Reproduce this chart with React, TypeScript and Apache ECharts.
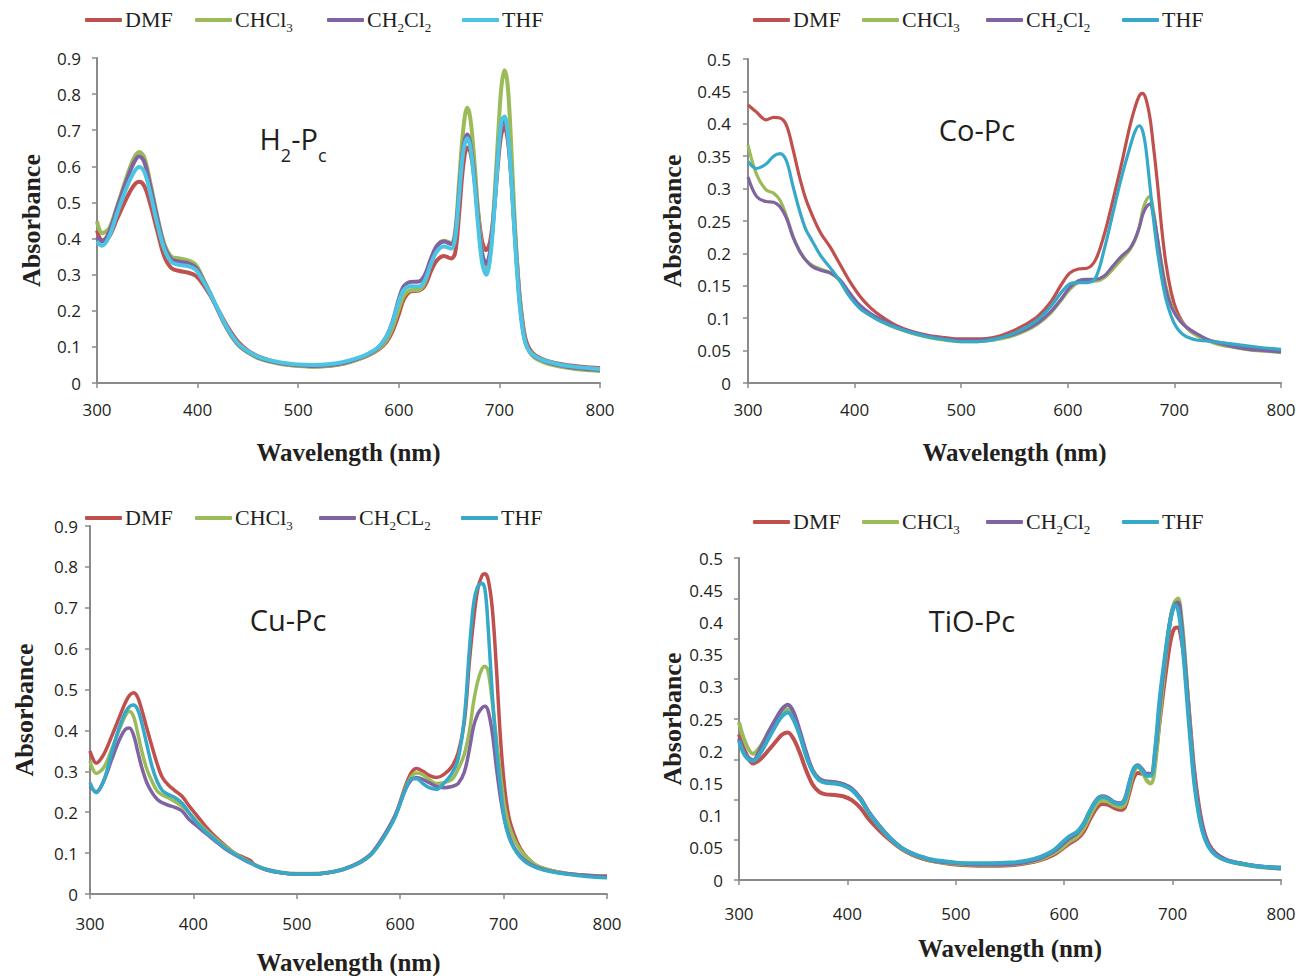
import React, { useEffect, useRef } from "react";
import * as echarts from "echarts";

// ---------- data ----------
const solvents = ["DMF", "CHCl3", "CH2Cl2", "THF"];
const solventsCu = ["DMF", "CHCl3", "CH2CL2", "THF"];
const xTicks = [300, 400, 500, 600, 700, 800];

// Panel 1: H2-Pc
const wl1 = [300,305,312,320,330,337,342,347,353,360,367,374,382,390,398,405,412,420,430,440,450,460,470,480,490,500,515,530,545,560,570,580,588,594,600,605,612,620,626,632,638,645,652,656,660,664,668,671,675,679,683,687,691,695,699,702,705,708,711,714,717,720,723,726,730,735,742,750,762,775,790,800];
const h2DMF = [0.422,0.395,0.405,0.455,0.515,0.548,0.557,0.545,0.495,0.420,0.350,0.318,0.310,0.306,0.297,0.275,0.245,0.205,0.155,0.115,0.090,0.074,0.064,0.057,0.052,0.049,0.046,0.048,0.054,0.066,0.077,0.093,0.115,0.145,0.190,0.232,0.254,0.256,0.270,0.310,0.340,0.352,0.345,0.360,0.470,0.600,0.652,0.640,0.570,0.470,0.390,0.368,0.395,0.490,0.620,0.690,0.708,0.680,0.600,0.480,0.355,0.245,0.170,0.122,0.094,0.078,0.067,0.059,0.052,0.047,0.043,0.041];
const h2CHCl3 = [0.448,0.415,0.428,0.490,0.575,0.625,0.640,0.625,0.555,0.462,0.385,0.350,0.345,0.340,0.328,0.292,0.252,0.202,0.146,0.106,0.084,0.069,0.060,0.054,0.050,0.047,0.045,0.047,0.053,0.066,0.078,0.095,0.120,0.155,0.205,0.242,0.257,0.258,0.280,0.335,0.380,0.394,0.388,0.420,0.560,0.700,0.762,0.735,0.620,0.470,0.360,0.318,0.360,0.510,0.700,0.820,0.866,0.830,0.700,0.520,0.360,0.240,0.160,0.112,0.085,0.070,0.060,0.052,0.045,0.039,0.035,0.033];
const h2CH2Cl2 = [0.405,0.392,0.418,0.485,0.565,0.612,0.628,0.612,0.545,0.455,0.378,0.343,0.336,0.332,0.320,0.288,0.250,0.203,0.148,0.108,0.086,0.071,0.062,0.056,0.052,0.049,0.047,0.049,0.055,0.068,0.080,0.099,0.130,0.172,0.232,0.268,0.280,0.281,0.300,0.345,0.380,0.392,0.385,0.410,0.530,0.650,0.688,0.665,0.575,0.450,0.355,0.330,0.370,0.490,0.640,0.712,0.724,0.690,0.600,0.470,0.340,0.230,0.155,0.112,0.088,0.074,0.064,0.056,0.048,0.042,0.038,0.036];
const h2THF = [0.392,0.380,0.405,0.470,0.545,0.585,0.598,0.585,0.525,0.440,0.370,0.335,0.327,0.324,0.314,0.285,0.250,0.205,0.150,0.110,0.088,0.073,0.064,0.058,0.054,0.051,0.050,0.052,0.058,0.070,0.082,0.100,0.130,0.170,0.225,0.258,0.268,0.267,0.285,0.330,0.365,0.378,0.372,0.400,0.520,0.640,0.678,0.655,0.560,0.430,0.330,0.300,0.350,0.480,0.640,0.725,0.738,0.700,0.600,0.460,0.330,0.220,0.150,0.110,0.088,0.075,0.065,0.058,0.050,0.045,0.041,0.038];

// Panel 2: Co-Pc
const wl2 = [300,308,317,324,330,336,342,348,354,360,368,377,386,395,405,415,425,440,455,470,485,500,515,530,545,560,572,584,594,602,610,618,626,634,642,650,658,663,667,670,673,677,680,684,688,692,697,702,708,715,722,730,740,755,770,785,800];
const coDMF = [0.429,0.418,0.406,0.410,0.409,0.398,0.362,0.320,0.285,0.260,0.232,0.210,0.184,0.158,0.134,0.116,0.103,0.088,0.079,0.073,0.070,0.068,0.068,0.070,0.078,0.090,0.103,0.125,0.152,0.170,0.176,0.177,0.190,0.228,0.280,0.335,0.395,0.425,0.443,0.447,0.440,0.410,0.370,0.310,0.240,0.185,0.140,0.112,0.093,0.080,0.074,0.067,0.063,0.059,0.055,0.052,0.050];
const coCHCl3 = [0.367,0.322,0.298,0.293,0.282,0.258,0.228,0.205,0.190,0.182,0.176,0.170,0.158,0.136,0.116,0.104,0.095,0.084,0.076,0.070,0.066,0.064,0.064,0.066,0.071,0.080,0.091,0.108,0.128,0.145,0.155,0.157,0.157,0.162,0.175,0.190,0.205,0.220,0.240,0.265,0.280,0.288,0.270,0.225,0.185,0.150,0.122,0.104,0.092,0.080,0.072,0.066,0.060,0.055,0.051,0.049,0.047];
const coCH2Cl2 = [0.318,0.288,0.280,0.279,0.272,0.255,0.226,0.205,0.190,0.180,0.174,0.170,0.160,0.140,0.120,0.107,0.098,0.086,0.078,0.072,0.068,0.066,0.066,0.068,0.073,0.082,0.093,0.110,0.130,0.148,0.158,0.160,0.160,0.165,0.180,0.195,0.207,0.222,0.240,0.258,0.270,0.276,0.262,0.225,0.180,0.145,0.118,0.103,0.091,0.082,0.075,0.068,0.062,0.056,0.052,0.050,0.048];
const coTHF = [0.342,0.331,0.338,0.350,0.354,0.343,0.305,0.268,0.238,0.220,0.197,0.178,0.158,0.134,0.115,0.104,0.095,0.085,0.077,0.071,0.067,0.064,0.064,0.067,0.074,0.085,0.098,0.118,0.140,0.153,0.155,0.155,0.162,0.205,0.260,0.315,0.362,0.388,0.397,0.390,0.365,0.305,0.258,0.205,0.163,0.130,0.103,0.086,0.075,0.069,0.066,0.065,0.063,0.060,0.057,0.054,0.052];

// Panel 3: Cu-Pc
const wl3 = [300,306,313,321,328,334,338,342,346,350,355,360,365,370,376,382,389,396,404,412,420,430,440,450,455,460,470,485,500,515,530,545,560,572,584,595,605,611,616,622,628,635,642,650,656,662,667,671,675,679,682,685,689,693,697,701,705,710,716,723,732,745,760,780,800];
const cuDMF = [0.350,0.320,0.340,0.386,0.430,0.467,0.485,0.492,0.482,0.451,0.405,0.360,0.318,0.285,0.266,0.253,0.239,0.215,0.190,0.165,0.143,0.120,0.100,0.088,0.082,0.070,0.059,0.052,0.049,0.049,0.052,0.060,0.075,0.097,0.140,0.190,0.264,0.298,0.307,0.300,0.290,0.285,0.292,0.312,0.345,0.420,0.570,0.670,0.745,0.778,0.783,0.770,0.700,0.555,0.380,0.260,0.190,0.147,0.112,0.088,0.069,0.058,0.051,0.046,0.044];
const cuCHCl3 = [0.325,0.295,0.308,0.354,0.400,0.435,0.447,0.435,0.395,0.350,0.305,0.275,0.252,0.242,0.235,0.226,0.214,0.198,0.176,0.156,0.138,0.117,0.099,0.084,0.077,0.071,0.061,0.053,0.050,0.050,0.053,0.061,0.076,0.097,0.138,0.188,0.258,0.288,0.296,0.292,0.280,0.270,0.272,0.280,0.305,0.342,0.400,0.470,0.520,0.550,0.557,0.545,0.470,0.380,0.290,0.215,0.170,0.135,0.108,0.088,0.070,0.058,0.050,0.045,0.042];
const cuCH2Cl2 = [0.264,0.250,0.275,0.329,0.375,0.402,0.406,0.390,0.350,0.310,0.272,0.248,0.232,0.223,0.217,0.212,0.203,0.182,0.165,0.148,0.132,0.112,0.096,0.082,0.076,0.070,0.060,0.052,0.049,0.049,0.052,0.061,0.077,0.099,0.142,0.192,0.255,0.280,0.285,0.280,0.272,0.263,0.260,0.263,0.270,0.298,0.355,0.410,0.440,0.455,0.459,0.448,0.395,0.310,0.235,0.180,0.145,0.115,0.094,0.078,0.066,0.056,0.050,0.045,0.042];
const cuTHF = [0.272,0.248,0.275,0.346,0.405,0.443,0.458,0.462,0.452,0.419,0.365,0.312,0.275,0.253,0.243,0.236,0.222,0.198,0.172,0.152,0.135,0.114,0.097,0.082,0.076,0.070,0.060,0.052,0.049,0.049,0.052,0.060,0.075,0.097,0.138,0.188,0.255,0.282,0.282,0.270,0.260,0.256,0.270,0.295,0.330,0.430,0.600,0.710,0.752,0.760,0.745,0.655,0.490,0.360,0.260,0.180,0.140,0.112,0.090,0.075,0.064,0.055,0.049,0.043,0.040];

// Panel 4: TiO-Pc
const wl4 = [300,306,313,320,328,335,340,345,350,356,362,368,374,380,388,396,404,412,420,430,440,450,460,470,480,495,510,530,550,565,578,590,598,605,612,618,624,630,635,640,646,652,656,660,664,668,672,676,680,684,688,692,696,699,702,705,708,711,714,717,720,724,728,733,740,750,765,780,800];
const tiDMF = [0.226,0.198,0.181,0.188,0.203,0.217,0.226,0.229,0.220,0.198,0.170,0.148,0.137,0.133,0.132,0.130,0.124,0.112,0.094,0.076,0.061,0.048,0.039,0.033,0.029,0.025,0.023,0.022,0.023,0.026,0.031,0.039,0.048,0.057,0.064,0.075,0.095,0.112,0.118,0.117,0.112,0.109,0.113,0.135,0.158,0.166,0.165,0.163,0.163,0.190,0.245,0.300,0.350,0.378,0.391,0.392,0.375,0.340,0.285,0.225,0.170,0.118,0.082,0.057,0.041,0.031,0.025,0.021,0.019];
const tiCHCl3 = [0.245,0.213,0.196,0.208,0.232,0.250,0.261,0.265,0.255,0.228,0.195,0.170,0.157,0.153,0.152,0.149,0.141,0.126,0.104,0.082,0.063,0.049,0.040,0.034,0.029,0.026,0.024,0.023,0.024,0.027,0.032,0.041,0.050,0.060,0.067,0.080,0.100,0.118,0.123,0.122,0.116,0.113,0.118,0.142,0.167,0.175,0.168,0.155,0.150,0.180,0.250,0.320,0.380,0.415,0.432,0.437,0.410,0.355,0.285,0.218,0.160,0.108,0.075,0.053,0.039,0.030,0.024,0.020,0.018];
const tiCH2Cl2 = [0.220,0.195,0.186,0.205,0.232,0.253,0.266,0.272,0.262,0.232,0.198,0.170,0.157,0.153,0.152,0.149,0.142,0.127,0.105,0.083,0.064,0.050,0.041,0.035,0.030,0.027,0.025,0.024,0.025,0.028,0.034,0.044,0.055,0.065,0.073,0.087,0.108,0.125,0.130,0.128,0.121,0.119,0.126,0.150,0.172,0.178,0.172,0.165,0.165,0.200,0.270,0.330,0.382,0.413,0.428,0.431,0.400,0.345,0.280,0.215,0.160,0.110,0.078,0.055,0.040,0.031,0.025,0.021,0.018];
const tiTHF = [0.216,0.192,0.185,0.198,0.222,0.243,0.255,0.260,0.250,0.225,0.192,0.168,0.155,0.151,0.150,0.147,0.140,0.125,0.104,0.082,0.064,0.050,0.041,0.035,0.031,0.028,0.026,0.026,0.027,0.030,0.036,0.046,0.058,0.068,0.075,0.088,0.108,0.124,0.129,0.127,0.120,0.118,0.125,0.150,0.172,0.177,0.170,0.162,0.162,0.205,0.280,0.335,0.385,0.412,0.427,0.420,0.385,0.330,0.265,0.205,0.150,0.103,0.073,0.052,0.038,0.030,0.025,0.021,0.019];

const panelTitles = ["{m|H}{s|2}{m|-P}{s|c}", "{m|Co-Pc}", "{m|Cu-Pc}", "{m|TiO-Pc}"];

// ---------- styling ----------
const RED = "#C0504D";
const GREEN = "#9BBB59";
const PURPLE = "#8064A2";
const CYAN1 = "#4CC5E4";
const CYAN = "#36A8C8";
const AXIS = "#8a8a8a";
const SERIF = "'Liberation Serif', 'Times New Roman', serif";
const SANS = "'Open Sans', 'Noto Sans', sans-serif";

const pair = (wl: number[], v: number[]) => wl.map((w, i) => [w, v[i]]);

const legendLabel = (name: string) => {
  if (name === "CHCl3") return "{m|CHCl}{s|3}";
  if (name === "CH2Cl2") return "{m|CH}{s|2}{m|Cl}{s|2}";
  if (name === "CH2CL2") return "{m|CH}{s|2}{m|CL}{s|2}";
  return "{m|" + name + "}";
};

export default function App() {
  const ref = useRef<HTMLDivElement>(null);
  useEffect(() => {
    if (!ref.current) return;
    const chart = echarts.init(ref.current, undefined, { renderer: "svg" });

    const grids = [
      { left: 97, top: 58, width: 503, height: 325 },
      { left: 748, top: 59, width: 533, height: 324 },
      { left: 90, top: 526, width: 517, height: 369 },
      { left: 739, top: 558, width: 542, height: 322 },
    ];
    const yMax = [0.9, 0.5, 0.9, 0.5];
    const yInt = [0.1, 0.05, 0.1, 0.05];
    const xLabelMargin = [18, 18, 21, 25];
    const xNameGap = [57, 57, 56, 56];
    const yLabelMargin = [16, 17, 12, 16];
    const yNameGap = [53, 63, 53, 53];
    const lineW = [4, 3.2, 3.5, 4];
    const thfColor = [CYAN1, CYAN, CYAN, CYAN];

    const axisLine = { show: true, lineStyle: { color: AXIS, width: 2 } };
    const axisTick = { show: true, inside: false, length: 5, lineStyle: { color: AXIS, width: 1.5 } };

    const xAxis = grids.map((_, i) => ({
      type: "value",
      gridIndex: i,
      min: xTicks[0],
      max: xTicks[xTicks.length - 1],
      interval: 100,
      axisLine,
      axisTick,
      splitLine: { show: false },
      axisLabel: { color: "#231f20", fontFamily: SANS, fontSize: 17, margin: xLabelMargin[i] },
      name: "Wavelength (nm)",
      nameLocation: "middle",
      nameGap: xNameGap[i],
      nameTextStyle: { fontFamily: SERIF, fontWeight: "bold", fontSize: 25, color: "#231f20" },
    }));

    const yAxis: any[] = grids.map((_, i) => ({
      type: "value",
      gridIndex: i,
      min: 0,
      max: yMax[i],
      interval: yInt[i],
      axisLine,
      axisTick: i === 3 ? { show: false } : axisTick,
      splitLine: { show: false },
      axisLabel: { color: "#231f20", fontFamily: SANS, fontSize: 17, margin: yLabelMargin[i] },
      name: "Absorbance",
      nameLocation: "middle",
      nameGap: yNameGap[i],
      nameTextStyle: { fontFamily: SERIF, fontWeight: "bold", fontSize: 26, color: "#231f20" },
    }));
    // TiO-Pc panel: tick marks that do not line up with its labels
    yAxis.push({
      type: "value",
      gridIndex: 3,
      position: "left",
      min: 0,
      max: 0.5,
      interval: 0.0625,
      axisLine: { show: false },
      axisTick,
      axisLabel: { show: false },
      splitLine: { show: false },
    });

    const panelData = [
      [h2DMF, h2CHCl3, h2CH2Cl2, h2THF],
      [coDMF, coCHCl3, coCH2Cl2, coTHF],
      [cuDMF, cuCHCl3, cuCH2Cl2, cuTHF],
      [tiDMF, tiCHCl3, tiCH2Cl2, tiTHF],
    ];
    const panelWl = [wl1, wl2, wl3, wl4];

    const series: any[] = [];
    panelData.forEach((arrs, p) => {
      const names = p === 2 ? solventsCu : solvents;
      const colors = [RED, GREEN, PURPLE, thfColor[p]];
      arrs.forEach((vals, k) => {
        series.push({
          type: "line",
          name: names[k],
          xAxisIndex: p,
          yAxisIndex: p,
          data: pair(panelWl[p], vals),
          showSymbol: false,
          symbol: "none",
          smooth: 0.35,
          lineStyle: { color: colors[k], width: lineW[p] },
          itemStyle: { color: colors[k] },
          z: 2 + k,
        });
      });
    });

    const legendLefts = [
      [85, 195, 327, 462],
      [753, 862, 986, 1122],
      [85, 195, 319, 461],
      [753, 862, 986, 1122],
    ];
    const legendTops = [8, 8, 506, 510];
    const legends: any[] = [];
    legendLefts.forEach((lefts, p) => {
      const names = p === 2 ? solventsCu : solvents;
      const colors = [RED, GREEN, PURPLE, thfColor[p]];
      lefts.forEach((lx, k) => {
        legends.push({
          left: lx,
          top: legendTops[p],
          padding: 0,
          itemWidth: 37,
          itemHeight: 4,
          itemGap: 0,
          selectedMode: false,
          icon: "roundRect",
          data: [{ name: names[k], itemStyle: { color: colors[k] } }],
          formatter: legendLabel,
          textStyle: {
            padding: [0, 0, 0, -2],
            rich: {
              m: { fontFamily: SERIF, fontSize: 22, color: "#231f20", lineHeight: 24, verticalAlign: "top" },
              s: { fontFamily: SERIF, fontSize: 13, color: "#231f20", lineHeight: 13, padding: [13, 0, 0, 0], verticalAlign: "top" },
            },
          },
        });
      });
    });

    const titlePos = [
      [293, 142],
      [977, 133],
      [288, 623],
      [972, 624],
    ];
    const graphic = titlePos.map((pos, i) => ({
      type: "text",
      x: pos[0],
      y: pos[1],
      z: 100,
      style: {
        text: panelTitles[i],
        align: "center",
        verticalAlign: "middle",
        fill: "#231f20",
        rich: {
          m: { fontFamily: SANS, fontSize: 29, fill: "#231f20", lineHeight: 36, verticalAlign: "top" },
          s: { fontFamily: SANS, fontSize: 18, fill: "#231f20", lineHeight: 18, padding: [22, 0, 0, 0], verticalAlign: "top" },
        },
      },
    }));

    chart.setOption({
      animation: false,
      backgroundColor: "#ffffff",
      grid: grids,
      xAxis,
      yAxis,
      legend: legends,
      graphic,
      series,
    });
    return () => chart.dispose();
  }, []);

  return (
    <div
      ref={ref}
      style={{ position: "absolute", left: 0, top: 0, width: 1300, height: 976, background: "#fff" }}
    />
  );
}
